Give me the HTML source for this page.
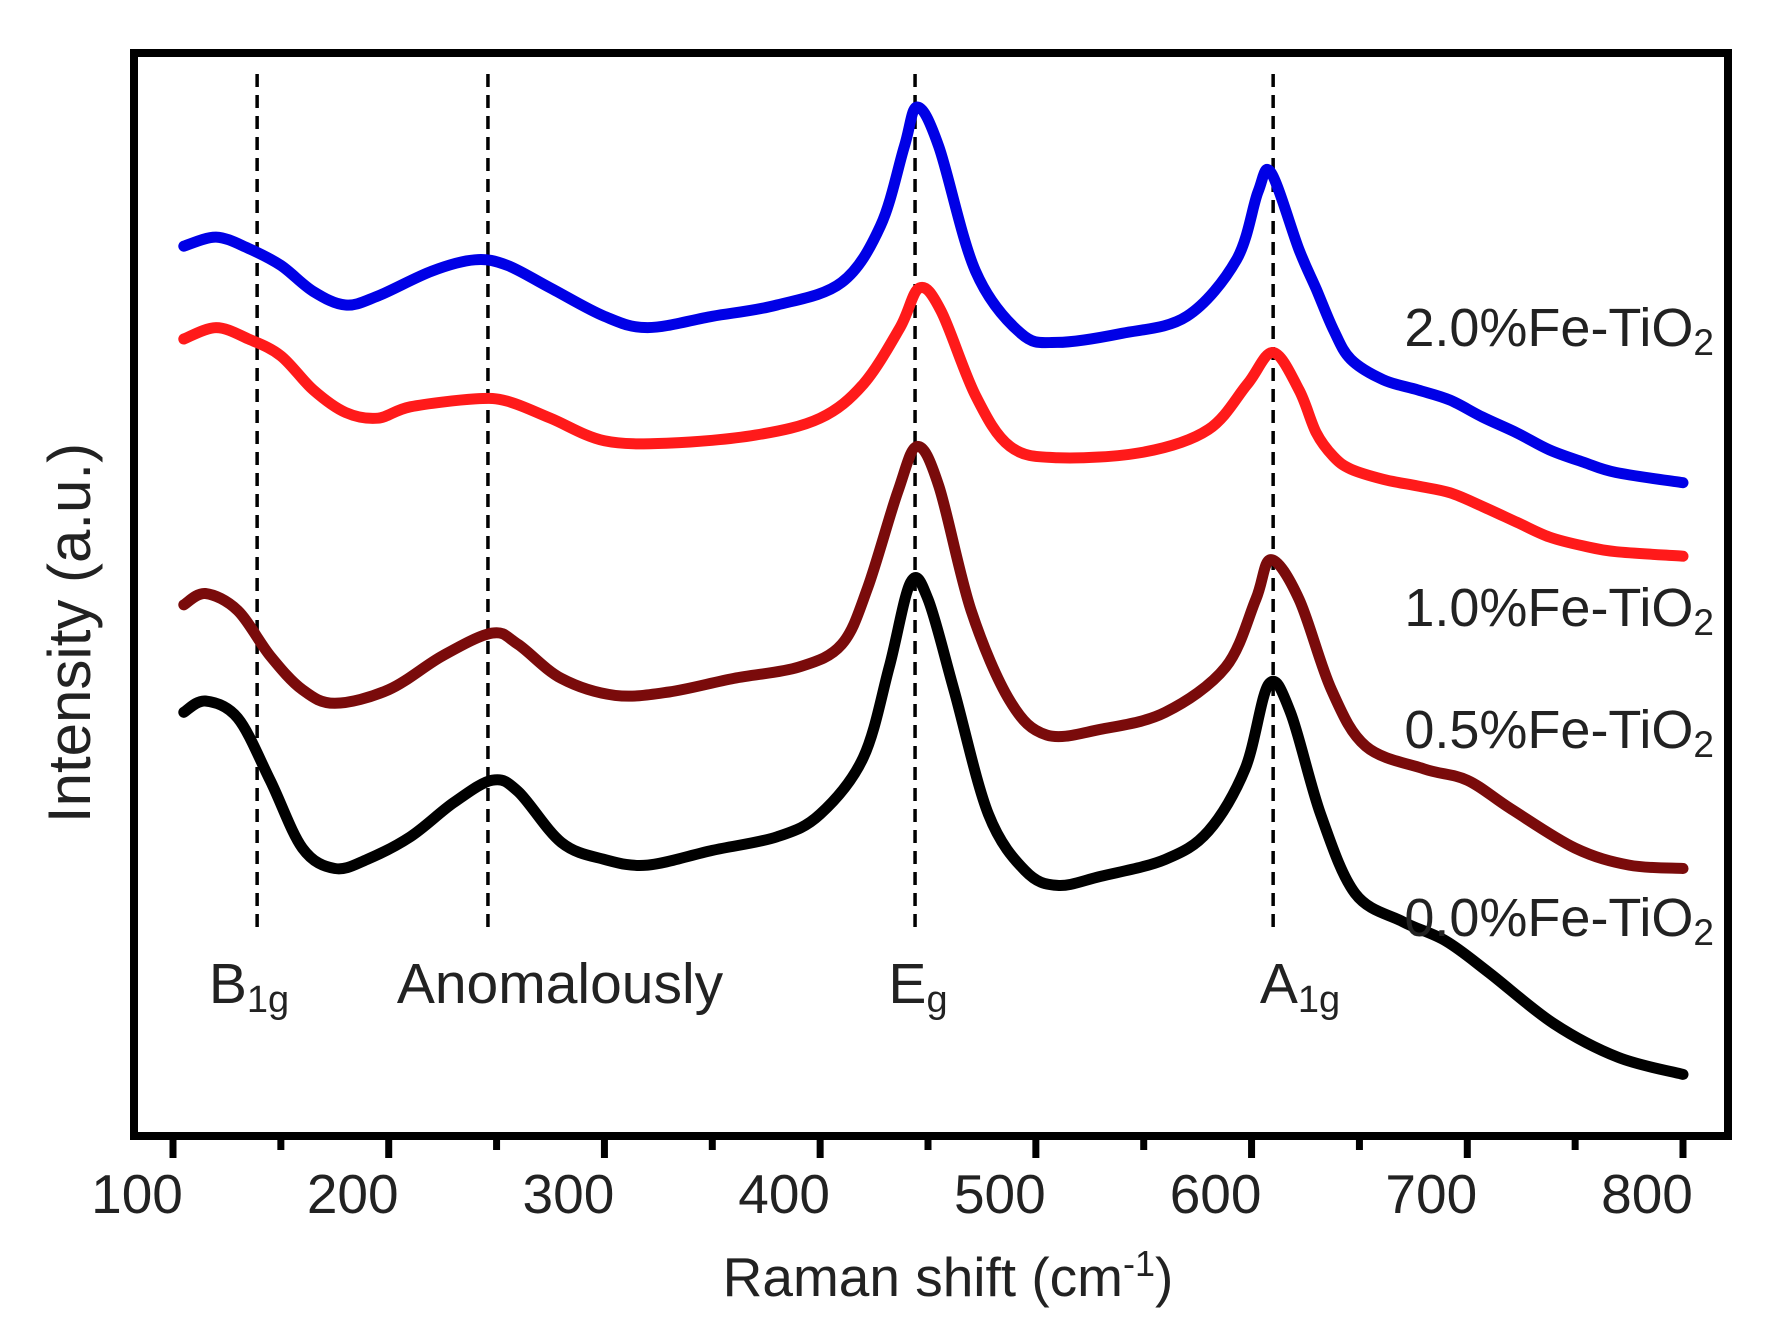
<!DOCTYPE html>
<html><head><meta charset="utf-8"><style>
html,body{margin:0;padding:0;background:#fff}
svg{display:block}
text{font-family:"Liberation Sans","DejaVu Sans",sans-serif;fill:#222}
</style></head><body>
<svg id="chart" width="1765" height="1325" viewBox="0 0 1765 1325" xmlns="http://www.w3.org/2000/svg"></svg>
<script>
// Data (x: Raman shift cm-1, y: intensity a.u.)
const xTicks = [100,200,300,400,500,600,700,800];
const xMinor = [150,250,350,450,550,650,750];
const modeLines = [139,246,444,610];
const modeLabels = [["B","1g"],["Anomalously",""],["E","g"],["A","1g"]];
const modeLabelX = [249,560,918,1300];
const seriesNames = ["0.0%Fe-TiO","0.5%Fe-TiO","1.0%Fe-TiO","2.0%Fe-TiO"];
const seriesColors = ["#000000","#7a0b0b","#ff1a1a","#0000e6"];
const labelY = [918,730,608,328];
const xBlack = [105,115,130,145,160,175,190,210,230,248,260,280,300,320,350,380,400,420,432,442,450,462,478,495,510,530,560,580,597,608,618,632,648,670,690,710,740,770,800];
const yBlack = [630,620,635,690,750,768,760,740,710,690,700,745,760,765,752,740,720,670,590,515,530,610,720,770,783,775,760,735,680,605,630,720,790,815,832,860,905,935,950];
const xDark = [105,115,130,145,160,175,200,225,248,260,280,305,330,360,390,410,422,436,445,455,470,488,505,530,560,588,602,609,622,637,653,680,700,720,750,775,800];
const yDark = [535,525,540,580,610,622,610,580,560,570,600,615,612,600,590,570,520,435,395,430,540,620,650,645,630,590,530,495,530,610,660,680,690,715,750,765,768];
const xRed = [105,120,135,150,165,180,195,210,240,255,275,300,330,370,400,420,437,446,456,472,488,510,550,580,598,610,622,630,638,646,661,677,692,707,723,738,754,769,800];
const yRed = [300,290,300,315,345,365,370,360,353,355,370,390,392,385,370,340,290,255,275,350,395,405,400,380,340,312,345,383,404,415,424,430,436,448,462,475,483,488,492];
const xBlue = [105,120,135,150,165,180,195,220,240,255,275,300,320,350,380,410,428,439,445,455,472,493,510,540,570,593,603,609,622,630,638,646,661,677,692,707,723,738,754,769,800];
const yBlue = [218,210,220,235,258,270,262,240,230,235,255,280,290,280,270,250,200,130,95,130,240,295,303,295,280,230,170,153,221,256,292,318,336,345,354,369,383,398,409,418,427];
// y values above are stored as display-depth; convert to intensity = 1008 - v
const seriesX = [xBlack,xDark,xRed,xBlue];
const seriesY = [yBlack,yDark,yRed,yBlue].map(a=>a.map(v=>1008-v));

const S = 1765/1560;
const svg = document.getElementById('chart');
const NS = 'http://www.w3.org/2000/svg';
const sx = v => 173 + (v-100)*(1683-173)/700;
const sy = v => 1140 - v*S;
function mk(tag, attrs, parent){const e=document.createElementNS(NS,tag);for(const k in attrs)e.setAttribute(k,attrs[k]);(parent||svg).appendChild(e);return e;}

const frame = mk('rect',{x:134,y:53,width:1594,height:1083,fill:'none',stroke:'#000','stroke-width':8});



xTicks.forEach(t=>{
  const l = mk('line',{x1:sx(t),x2:sx(t),y1:1136,y2:1158,stroke:'#000','stroke-width':7});
  
  
  const tx = mk('text',{x:sx(t)-36,y:1213,'text-anchor':'middle','font-size':55});
  tx.textContent = t;
  
  
});
xMinor.forEach(t=>{
  const l = mk('line',{x1:sx(t),x2:sx(t),y1:1136,y2:1150,stroke:'#000','stroke-width':7});
  
  
});

modeLines.forEach(m=>{
  const l = mk('line',{x1:sx(m),x2:sx(m),y1:74,y2:927,stroke:'#000','stroke-width':3.5,'stroke-dasharray':'13,8'});
  
  
});
modeLabels.forEach((p,i)=>{
  const t = mk('text',{x:modeLabelX[i],y:1003,'text-anchor':'middle','font-size':57});
  
  
  t.appendChild(document.createTextNode(p[0]));
  if(p[1]){const s=mk('tspan',{'font-size':38,dy:9},t);s.textContent=p[1];}
});

function path(xs,ys){
  const P = xs.map((x,i)=>[sx(x),sy(ys[i])]);
  let d = 'M'+P[0][0].toFixed(1)+','+P[0][1].toFixed(1);
  for(let i=0;i<P.length-1;i++){
    const p0=P[Math.max(0,i-1)],p1=P[i],p2=P[i+1],p3=P[Math.min(P.length-1,i+2)];
    const c1=[p1[0]+(p2[0]-p0[0])/6,p1[1]+(p2[1]-p0[1])/6];
    const c2=[p2[0]-(p3[0]-p1[0])/6,p2[1]-(p3[1]-p1[1])/6];
    d+=' C'+c1.map(v=>v.toFixed(1)).join(',')+' '+c2.map(v=>v.toFixed(1)).join(',')+' '+p2.map(v=>v.toFixed(1)).join(',');
  }
  return d;
}
seriesX.forEach((xs,i)=>{
  const p = mk('path',{d:path(xs,seriesY[i]),fill:'none',stroke:seriesColors[i],'stroke-width':11,'stroke-linejoin':'round','stroke-linecap':'round'});
  
  
  const t = mk('text',{x:1714,y:labelY[i]+18,'text-anchor':'end','font-size':54});
  
  
  t.appendChild(document.createTextNode(seriesNames[i]));
  const s = mk('tspan',{'font-size':37,dy:9},t); s.textContent='2';
});

const xt = mk('text',{x:948,y:1296,'text-anchor':'middle','font-size':55});


xt.appendChild(document.createTextNode('Raman shift (cm'));
const sup = mk('tspan',{'font-size':36,dy:-20},xt); sup.textContent='-1';
const cl = mk('tspan',{'font-size':55,dy:20},xt); cl.textContent=')';
const yt = mk('text',{x:0,y:0,'text-anchor':'middle','font-size':60,transform:'translate(90,633) rotate(-90)'});


yt.textContent='Intensity (a.u.)';
</script>
</body></html>
